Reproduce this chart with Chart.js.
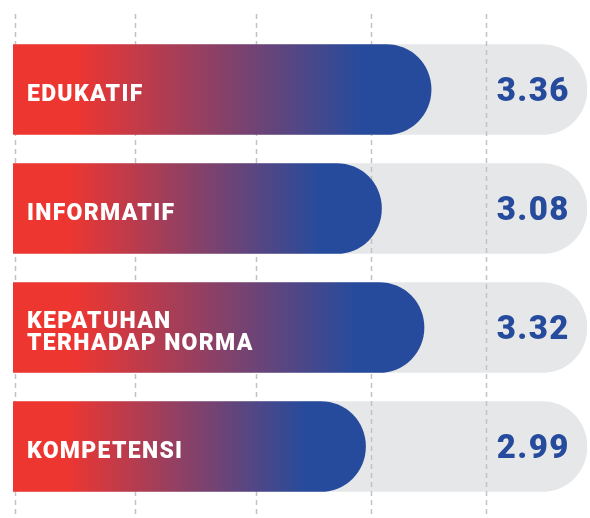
<!DOCTYPE html>
<html>
<head>
<meta charset="utf-8">
<script src="https://cdn.jsdelivr.net/npm/chart.js@4/dist/chart.umd.min.js"></script>
<style>
  body { margin: 0; background: #fff; }
  #wrap { width: 590px; height: 518px; position: relative; }
</style>
</head>
<body>
<div id="wrap"><canvas id="scoreChart"></canvas></div>
<script>
// Scores per aspect
const categories = [["EDUKATIF"], ["INFORMATIF"], ["KEPATUHAN", "TERHADAP NORMA"], ["KOMPETENSI"]];
const scores = [3.36, 3.08, 3.32, 2.99];
const scoreLabels = ["3.36", "3.08", "3.32", "2.99"];
const trackValues = [4.24, 4.24, 4.24, 4.24];
const gridValues = [1.01, 1.69, 2.37, 3.02, 3.67];
const axisMin = 1;
const axisMax = 4.24;

const RED = "#ee3631";
const BLUE = "#274b9c";

// red -> blue fade along each bar
function barGradient(c) {
  const chart = c.chart;
  if (!chart.chartArea || c.raw === undefined) return RED;
  const x = chart.scales.x;
  const x0 = x.getPixelForValue(axisMin);
  const x1 = x.getPixelForValue(c.raw);
  const g = chart.ctx.createLinearGradient(x0, 0, x1, 0);
  g.addColorStop(0.15, RED);
  g.addColorStop(0.83, BLUE);
  return g;
}

// dashed guide lines, drawn over the grey track but under the coloured bars
const dashedGrid = {
  id: "dashedGrid",
  afterDatasetDraw(chart, args) {
    if (args.index !== 1) return;
    const ctx = chart.ctx;
    const x = chart.scales.x;
    ctx.save();
    ctx.strokeStyle = "#c2c2c2";
    ctx.lineWidth = 1.5;
    ctx.setLineDash([5, 4]);
    gridValues.forEach(v => {
      const px = Math.round(x.getPixelForValue(v)) + 0.5;
      ctx.beginPath();
      ctx.moveTo(px, 14);
      ctx.lineTo(px, chart.height);
      ctx.stroke();
    });
    ctx.restore();
  }
};

// category names inside the bars, score at the end of the track
const barText = {
  id: "barText",
  afterDatasetsDraw(chart) {
    const ctx = chart.ctx;
    const y = chart.scales.y;
    ctx.save();
    ctx.textBaseline = "alphabetic";
    categories.forEach((lines, i) => {
      const cy = y.getPixelForValue(i);
      ctx.fillStyle = "#ffffff";
      ctx.font = "900 23px Roboto";
      ctx.letterSpacing = "1.3px";
      ctx.textAlign = "left";
      const pitch = 21.7;
      const first = cy + 11.7 - (lines.length - 1) * pitch / 2;
      lines.forEach((t, k) => ctx.fillText(t, 27, first + k * pitch));

      ctx.fillStyle = BLUE;
      ctx.font = "900 33px Roboto";
      ctx.letterSpacing = "1.5px";
      ctx.textAlign = "right";
      ctx.fillText(scoreLabels[i], 570, cy + 11.7);
    });
    ctx.restore();
  }
};

new Chart(document.getElementById("scoreChart"), {
  type: "bar",
  data: {
    labels: categories,
    datasets: [
      {
        data: scores,
        backgroundColor: barGradient,
        borderRadius: 45,
        borderSkipped: "start",
        barThickness: 90,
        grouped: false
      },
      {
        data: trackValues,
        backgroundColor: "#e6e7e9",
        borderRadius: 45,
        borderSkipped: "start",
        barThickness: 90,
        grouped: false
      }
    ]
  },
  options: {
    indexAxis: "y",
    responsive: true,
    maintainAspectRatio: false,
    animation: false,
    layout: { padding: { left: 13, right: 3, top: 30, bottom: 12 } },
    scales: {
      x: { display: false, min: axisMin, max: axisMax },
      y: { display: false }
    },
    plugins: {
      legend: { display: false },
      tooltip: { enabled: false }
    }
  },
  plugins: [dashedGrid, barText]
});
</script>
</body>
</html>
